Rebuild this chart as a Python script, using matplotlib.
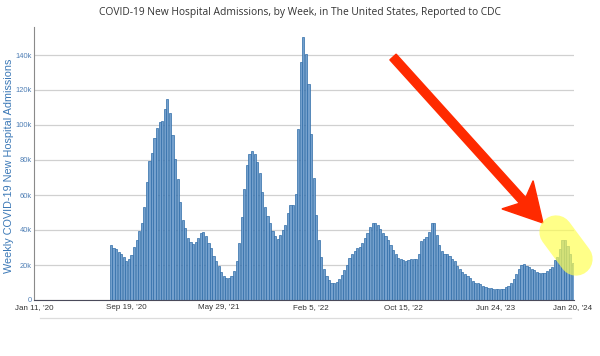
import matplotlib
matplotlib.use("Agg")
import matplotlib.pyplot as plt
from matplotlib.patches import FancyArrow
from matplotlib.lines import Line2D
import numpy as np

# Weekly admissions (thousands), weeks ending Aug 8 '20 ... Jan 20 '24
admissions_k = [
    31.4, 29.5, 29.0, 27.6, 26.3, 24.4, 22.5, 23.2, 25.7, 30.5,
    34.3, 39.4, 44.2, 53.3, 67.6, 79.4, 83.8, 92.8, 98.1, 101.9,
    102.3, 109.0, 114.9, 107.0, 94.3, 80.8, 69.3, 56.0, 45.7, 41.3,
    35.2, 33.0, 32.0, 33.3, 35.2, 38.1,
    39.0, 36.6, 32.8, 29.5, 25.1, 22.3, 19.4, 15.8, 13.9, 12.8,
    12.4, 13.9, 16.6, 22.3, 32.4, 47.2, 63.2, 77.2, 83.2, 85.2,
    83.6, 79.0, 72.4, 61.9, 53.3, 48.0, 43.8, 39.4, 36.6, 35.0,
    37.0, 40.0,
    42.9, 49.5, 54.5, 54.3, 60.6, 97.5, 135.8, 150.5, 140.4, 123.4, 94.7, 69.5,
    48.6, 34.3, 24.8, 17.7, 13.7, 11.4, 9.5, 9.5, 10.1, 11.8,
    14.3, 17.1, 20.0, 24.2, 26.3, 28.0, 29.5, 30.5, 32.8, 35.6,
    38.5, 41.9, 44.2, 43.8, 42.9, 40.4, 38.1, 36.6, 34.3, 31.4,
    28.6, 26.3, 24.2, 23.4, 22.9, 22.5, 22.9, 23.2, 23.4, 23.6,
    26.3, 33.7, 34.9, 36.2, 38.7, 44.2, 44.2, 37.1, 31.4, 28.0,
    26.3, 26.3, 25.1, 23.6, 22.3, 19.4, 17.5, 16.2, 14.7, 13.7,
    12.4, 10.9, 9.9, 9.5, 9.0, 8.0, 7.6, 7.0, 6.7, 6.3,
    6.3, 6.1, 6.1, 6.3, 7.2, 8.0, 9.5, 11.8, 14.7, 17.5,
    20.0, 20.6, 19.4, 18.7, 17.5, 17.1, 16.2, 15.6, 15.6, 15.6,
    16.6, 17.5, 19.1, 22.9, 24.4, 29.0, 34.3, 34.3, 30.9, 26.3,
    21.0,
]
first_week = 30  # weeks after Jan 11 '20

tick_weeks = [0, 36, 72, 108, 144, 180, 210]
tick_labels = ["Jan 11, '20", "Sep 19, '20", "May 29, '21", "Feb 5, '22",
               "Oct 15, '22", "Jun 24, '23", "Jan 20, '24"]
y_ticks = [0, 20000, 40000, 60000, 80000, 100000, 120000, 140000]
y_labels = ["0", "20k", "40k", "60k", "80k", "100k", "120k", "140k"]

title = "COVID-19 New Hospital Admissions, by Week, in The United States, Reported to CDC"
ylabel = "Weekly COVID-19 New Hospital Admissions"

vals = np.array(admissions_k) * 1000
weeks = np.arange(first_week, first_week + len(vals))

fig = plt.figure(figsize=(6.0, 3.56), dpi=100)
ax = fig.add_axes([34 / 600, 56 / 356, 540 / 600, 273 / 356])

ax.bar(weeks, vals, width=0.85, color="#74a0cd", edgecolor="#2f6ca8", linewidth=0.5, zorder=2)

ax.set_xlim(0, 210.5)
ax.set_ylim(0, 156000)
ax.set_yticks(y_ticks)
ax.set_yticklabels(y_labels, fontsize=5.4, color="#4f7fb5", family="Liberation Sans")
ax.set_xticks(tick_weeks)
ax.set_xticklabels(tick_labels, fontsize=5.8, color="#333333", family="Liberation Sans")
ax.tick_params(axis="y", length=0, pad=1.5)
ax.tick_params(axis="x", length=0, pad=3)
ax.grid(axis="y", color="#d0d0d0", linewidth=0.9, zorder=0)
ax.set_axisbelow(True)
for s in ["top", "right"]:
    ax.spines[s].set_visible(False)
ax.spines["left"].set_color("#8a8a8a")
ax.spines["left"].set_linewidth(0.8)
ax.spines["bottom"].set_color("#4a4a5a")
ax.spines["bottom"].set_linewidth(0.8)

# y axis title placed by hand so it stays inside the figure
fig.text(9 / 600, 1 - 166 / 356, ylabel, rotation=90, ha="center", va="center",
         fontsize=7.8, color="#3b78b6", family="Liberation Sans")
fig.text(0.5, 1 - 12 / 356, title, ha="center", va="center", fontsize=7.4,
         color="#333333", family="Open Sans")

# light line under the x labels
fig.add_artist(Line2D([40 / 600, 571 / 600], [1 - 318 / 356] * 2, transform=fig.transFigure,
                      color="#dcdcdc", linewidth=0.9))

# red arrow pointing at the latest bars (inches, origin bottom-left)
tail = (393 / 100, (356 - 57) / 100)
tip = (543 / 100, (356 - 223) / 100)
arrow = FancyArrow(tail[0], tail[1], tip[0] - tail[0], tip[1] - tail[1], width=0.085,
                   head_width=0.42, head_length=0.38, overhang=0.2,
                   length_includes_head=True, color="#ff2a00", transform=fig.dpi_scale_trans)
fig.add_artist(arrow)

# yellow highlighter mark
fig.add_artist(Line2D([556 / 100, 576 / 100], [(356 - 232) / 100, (356 - 259) / 100],
                      transform=fig.dpi_scale_trans, color="#ffff50", alpha=0.68,
                      linewidth=24, solid_capstyle="round"))

fig.savefig("out.png", dpi=100)
